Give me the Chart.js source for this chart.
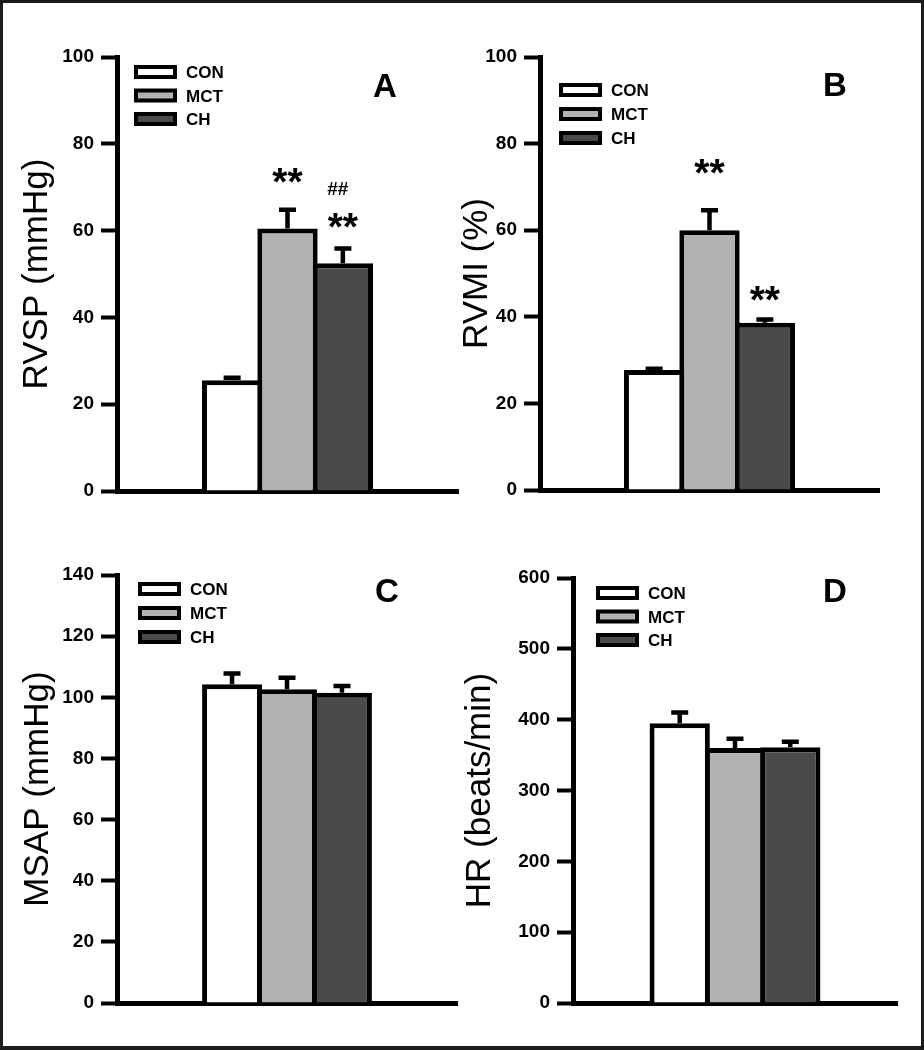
<!DOCTYPE html>
<html>
<head>
<meta charset="utf-8">
<title>RVSP, RVMI, MSAP, HR</title>
<script src="https://cdn.jsdelivr.net/npm/chart.js@4.4.1/dist/chart.umd.min.js"></script>
<style>
  body { margin: 0; background: #fff; }
  #page { position: relative; width: 924px; height: 1050px; overflow: hidden; background: #fff; }
  #page canvas { position: absolute; }
  #frame {
    position: absolute; left: 0; top: 0; width: 924px; height: 1050px;
    box-sizing: border-box; border: 3px solid #1c1c1c; border-bottom-width: 4px;
    pointer-events: none;
  }
</style>
</head>
<body>
<div id="page">
  <canvas id="chartA" width="462" height="520" style="left:0;top:0"></canvas>
  <canvas id="chartB" width="484" height="520" style="left:440px;top:0"></canvas>
  <canvas id="chartC" width="462" height="530" style="left:0;top:520px"></canvas>
  <canvas id="chartD" width="484" height="530" style="left:440px;top:520px"></canvas>
  <div id="frame"></div>
</div>

<script>
"use strict";

const FONT = "'Liberation Sans', Arial, Helvetica, sans-serif";

// Gruppen
const groups = ["CON", "MCT", "CH"];
const groupColors = ["#ffffff", "#b2b2b2", "#4a4a4a"];

// A - RVSP (mmHg)
const rvspMean = [25.5, 60.5, 52.5];
const rvspSem = [0.6, 4.3, 3.4];
const rvspStars = ["", "**", "**"];
const rvspStarAt = [null, 72.6, 62.4];
const rvspHash = ["", "", "##"];
const rvspHashAt = [null, null, 69.8];
const rvspTicks = [0, 20, 40, 60, 80, 100];

// B - RVMI (%)
const rvmiMean = [27.7, 60.0, 38.6];
const rvmiSem = [0.3, 4.6, 0.8];
const rvmiStars = ["", "**", "**"];
const rvmiStarAt = [null, 74.6, 45.4];
const rvmiTicks = [0, 20, 40, 60, 80, 100];

// C - MSAP (mmHg)
const msapMean = [104.3, 102.6, 101.5];
const msapSem = [3.5, 3.8, 2.2];
const msapTicks = [0, 20, 40, 60, 80, 100, 120, 140];

// D - HR (beats/min)
const hrMean = [395, 360, 361];
const hrSem = [15, 13, 8];
const hrTicks = [0, 100, 200, 300, 400, 500, 600];

// Text mittig auf die Glyphe setzen
function drawCentered(ctx, text, x, y) {
  const m = ctx.measureText(text);
  const base = y + (m.actualBoundingBoxAscent - m.actualBoundingBoxDescent) / 2;
  ctx.fillText(text, x, base);
}

// Fehlerbalken (nur nach oben) + Signifikanzzeichen
const errorBarPlugin = {
  id: "errorBars",
  afterDatasetsDraw(chart) {
    const ctx = chart.ctx;
    const yScale = chart.scales.y;
    ctx.save();
    ctx.strokeStyle = "#000";
    ctx.fillStyle = "#000";
    ctx.lineWidth = 4.5;
    ctx.textAlign = "center";
    chart.data.datasets.forEach((ds, i) => {
      const bar = chart.getDatasetMeta(i).data[0];
      const top = yScale.getPixelForValue(ds.data[0] + ds.sem);
      ctx.beginPath();
      ctx.moveTo(bar.x, bar.y);
      ctx.lineTo(bar.x, top);
      ctx.moveTo(bar.x - 8.5, top);
      ctx.lineTo(bar.x + 8.5, top);
      ctx.stroke();

      if (ds.star) {
        ctx.font = "bold 39px " + FONT;
        drawCentered(ctx, ds.star, bar.x, yScale.getPixelForValue(ds.starAt));
      }
      if (ds.hash) {
        ctx.font = "bold 19px " + FONT;
        drawCentered(ctx, ds.hash, bar.x - 5, yScale.getPixelForValue(ds.hashAt));
      }
    });
    ctx.restore();
  }
};

// Legende (Kästchen links oben im Diagramm) und Buchstabe des Panels
const panelLegendPlugin = {
  id: "panelLegend",
  afterDraw(chart, args, opts) {
    const ctx = chart.ctx;
    const area = chart.chartArea;
    ctx.save();
    chart.data.datasets.forEach((ds, i) => {
      const bx = area.left + opts.dx;
      const cy = area.top + opts.dy + i * opts.gap;
      ctx.fillStyle = "#000";
      ctx.fillRect(bx, cy - 7, 43, 14);
      ctx.fillStyle = ds.backgroundColor;
      ctx.fillRect(bx + 4, cy - 3, 35, 6);
      ctx.fillStyle = "#000";
      ctx.font = "bold 17px " + FONT;
      ctx.textAlign = "left";
      drawCentered(ctx, ds.label, bx + 52, cy);
    });
    ctx.font = "bold 33px " + FONT;
    ctx.textAlign = "center";
    drawCentered(ctx, opts.letter, area.right - opts.lx, area.top + opts.ly);
    ctx.restore();
  }
};

function makePanel(canvasId, means, sems, stars, starAt, hash, hashAt, ticks, yTitle, look) {
  const datasets = groups.map((g, i) => ({
    label: g,
    data: [means[i]],
    sem: sems[i],
    star: stars ? stars[i] : "",
    starAt: starAt ? starAt[i] : null,
    hash: hash ? hash[i] : "",
    hashAt: hashAt ? hashAt[i] : null,
    backgroundColor: groupColors[i],
    borderColor: "#000",
    borderWidth: 5,
    borderSkipped: "start",
    categoryPercentage: look.catPct,
    barPercentage: look.barPct
  }));

  return new Chart(document.getElementById(canvasId), {
    type: "bar",
    data: { labels: [""], datasets: datasets },
    options: {
      responsive: false,
      animation: false,
      devicePixelRatio: 1,
      layout: { padding: look.padding },
      plugins: {
        legend: { display: false },
        tooltip: { enabled: false },
        panelLegend: look.legend
      },
      scales: {
        x: {
          z: 1, // Achse über den Balken zeichnen
          ticks: { display: false },
          grid: { display: false },
          border: { display: true, color: "#000", width: 5 },
          afterFit: (scale) => { scale.height = 0; }
        },
        y: {
          min: ticks[0],
          max: ticks[ticks.length - 1],
          afterBuildTicks: (scale) => { scale.ticks = ticks.map(v => ({ value: v })); },
          ticks: {
            color: "#000",
            padding: 7,
            font: { family: FONT, size: 19, weight: "bold" }
          },
          grid: {
            drawOnChartArea: false,
            drawTicks: true,
            tickLength: 16,
            tickWidth: 4,
            tickColor: "#000"
          },
          border: { display: true, color: "#000", width: 5 },
          title: {
            display: true,
            text: yTitle,
            color: "#000",
            font: { family: FONT, size: 35, weight: "normal" },
            padding: { top: look.titlePad, bottom: 0 }
          },
          afterFit: (scale) => { scale.width = look.axisWidth; }
        }
      }
    },
    plugins: [errorBarPlugin, panelLegendPlugin]
  });
}

makePanel("chartA", rvspMean, rvspSem, rvspStars, rvspStarAt, rvspHash, rvspHashAt, rvspTicks, "RVSP (mmHg)", {
  axisWidth: 117, titlePad: 16,
  padding: { left: 0, right: 4, top: 57, bottom: 29 },
  catPct: 0.487, barPct: 1.09,
  legend: { dx: 17, dy: 15, gap: 23.5, letter: "A", lx: 73, ly: 28 }
});

makePanel("chartB", rvmiMean, rvmiSem, rvmiStars, rvmiStarAt, null, null, rvmiTicks, "RVMI (%)", {
  axisWidth: 100, titlePad: 16,
  padding: { left: 0, right: 45, top: 57, bottom: 30 },
  catPct: 0.490, barPct: 1.09,
  legend: { dx: 19, dy: 33, gap: 24, letter: "B", lx: 44, ly: 27 }
});

makePanel("chartC", msapMean, msapSem, null, null, null, null, msapTicks, "MSAP (mmHg)", {
  axisWidth: 117, titlePad: 17,
  padding: { left: 0, right: 5, top: 55, bottom: 47 },
  catPct: 0.485, barPct: 1.09,
  legend: { dx: 21, dy: 14, gap: 24, letter: "C", lx: 70, ly: 15 }
});

makePanel("chartD", hrMean, hrSem, null, null, null, null, hrTicks, "HR (beats/min)", {
  axisWidth: 133, titlePad: 19,
  padding: { left: 0, right: 27, top: 58, bottom: 47 },
  catPct: 0.512, barPct: 1.09,
  legend: { dx: 23, dy: 15, gap: 23.5, letter: "D", lx: 62, ly: 12 }
});
</script>
</body>
</html>
